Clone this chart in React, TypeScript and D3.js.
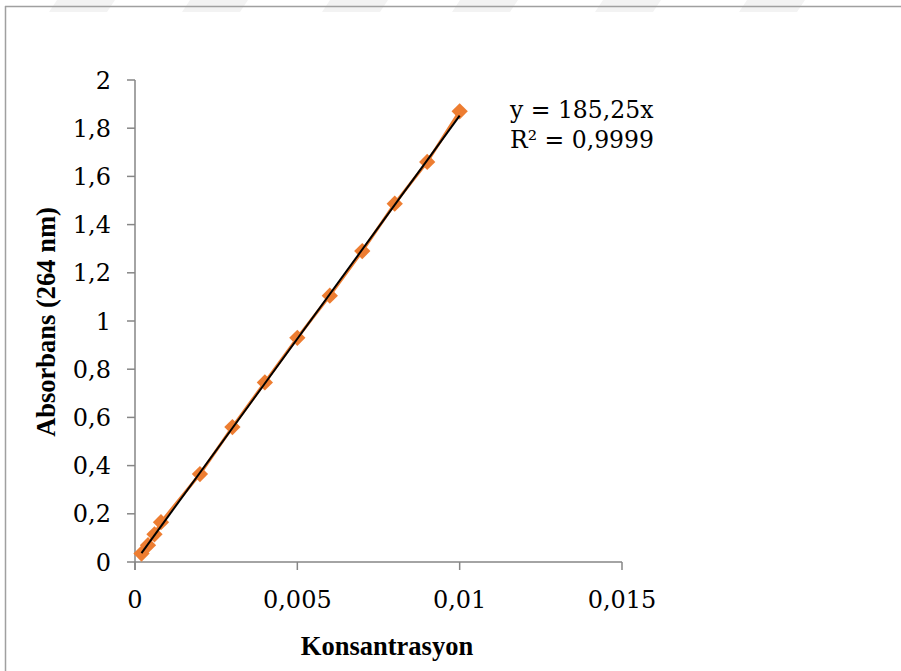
import React from "react";
import * as d3 from "d3";

// concentration / absorbance readings
const concentrations = [0.0002, 0.0004, 0.0006, 0.0008, 0.002, 0.003, 0.004, 0.005, 0.006, 0.007, 0.008, 0.009, 0.01];
const absorbances = [0.035, 0.07, 0.115, 0.165, 0.365, 0.56, 0.745, 0.93, 1.105, 1.29, 1.487, 1.66, 1.87];
const xTicks = [0, 0.005, 0.01, 0.015];
const yTicks = [0, 0.2, 0.4, 0.6, 0.8, 1, 1.2, 1.4, 1.6, 1.8, 2];
const slope = 185.25;
const equationLines = ["y = 185,25x", "R² = 0,9999"];
const watermarkX = [57, 190, 330, 460, 603, 747];

const width = 901;
const height = 671;
const fmt = (v: number) => String(v).replace(".", ",");

const App = () => {
  const x = d3.scaleLinear().domain([0, 0.015]).range([135, 622]);
  const y = d3.scaleLinear().domain([0, 2]).range([562, 80]);
  const points = concentrations.map((c, i) => [c, absorbances[i]] as [number, number]);

  const line = d3
    .line<[number, number]>()
    .x((d) => x(d[0]))
    .y((d) => y(d[1]));

  const xMin = d3.min(concentrations) as number;
  const xMax = d3.max(concentrations) as number;
  const trend: [number, number][] = [
    [xMin, slope * xMin],
    [xMax, slope * xMax],
  ];

  const font = "'DejaVu Serif', serif";
  const titleFont = "'Liberation Serif', serif";
  const axisColor = "#868686";
  const orange = "#ed7d31";

  return (
    <svg
      width={width}
      height={height}
      style={{ position: "absolute", left: 0, top: 0, background: "#fff" }}
    >
      {watermarkX.map((wx, i) => (
        <polygon
          key={i}
          points={`${wx},0 ${wx + 58},0 ${wx + 50},12 ${wx - 8},12`}
          fill="#f3f3f3"
        />
      ))}
      {/* frame */}
      <line x1={5.5} y1={6} x2={5.5} y2={height} stroke="#a0a0a0" strokeWidth={1.5} />
      <line x1={5} y1={6.5} x2={width} y2={6.5} stroke="#a0a0a0" strokeWidth={1.5} />

      {/* axes */}
      <line x1={x(0)} y1={y(0)} x2={x(0.015)} y2={y(0)} stroke={axisColor} strokeWidth={1.5} />
      <line x1={x(0)} y1={y(0) + 8} x2={x(0)} y2={y(2)} stroke={axisColor} strokeWidth={1.5} />
      {yTicks.map((t) => (
        <g key={"y" + t}>
          <line x1={x(0) - 8} x2={x(0)} y1={y(t)} y2={y(t)} stroke={axisColor} strokeWidth={1.5} />
          <text
            x={111}
            y={y(t)}
            dy="0.36em"
            textAnchor="end"
            fontFamily={font}
            fontSize={24}
            fill="#000"
          >
            {fmt(t)}
          </text>
        </g>
      ))}
      {xTicks.map((t) => (
        <g key={"x" + t}>
          <line x1={x(t)} x2={x(t)} y1={y(0)} y2={y(0) + 8} stroke={axisColor} strokeWidth={1.5} />
          <text
            x={x(t)}
            y={608}
            textAnchor="middle"
            fontFamily={font}
            fontSize={24}
            fill="#000"
          >
            {fmt(t)}
          </text>
        </g>
      ))}

      {/* series */}
      <path d={line(points) as string} fill="none" stroke={orange} strokeWidth={3} />
      {points.map((p, i) => (
        <rect
          key={i}
          x={-5.75}
          y={-5.75}
          width={11.5}
          height={11.5}
          fill={orange}
          transform={`translate(${x(p[0])},${y(p[1])}) rotate(45)`}
        />
      ))}
      <path d={line(trend) as string} fill="none" stroke="#000" strokeWidth={2} />

      {/* trendline label */}
      {equationLines.map((s, i) => (
        <text key={s} x={510} y={118 + i * 30} fontFamily={font} fontSize={23.5} fill="#000">
          {s}
        </text>
      ))}

      {/* titles */}
      <text
        x={387}
        y={655}
        textAnchor="middle"
        fontFamily={titleFont}
        fontWeight="bold"
        fontSize={26.5}
        fill="#000"
      >
        Konsantrasyon
      </text>
      <text
        transform={`translate(55,322) rotate(-90)`}
        textAnchor="middle"
        fontFamily={titleFont}
        fontWeight="bold"
        fontSize={26.5}
        fill="#000"
      >
        Absorbans (264 nm)
      </text>
    </svg>
  );
};

export default App;
